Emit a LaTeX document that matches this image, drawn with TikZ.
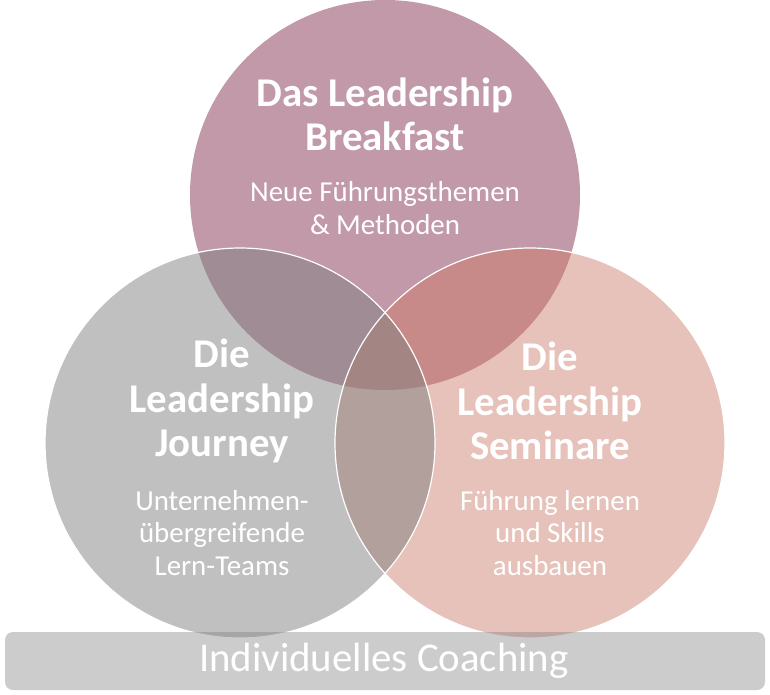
\documentclass[tikz,border=0pt]{standalone}
\usepackage{fontspec}
\setmainfont{Carlito}
\definecolor{breakfast}{HTML}{C199A8}
\definecolor{journey}{HTML}{C0C0C0}
\definecolor{seminare}{HTML}{E6C2BA}
\definecolor{bfjourney}{HTML}{A08C94}
\definecolor{bfseminare}{HTML}{C88A88}
\definecolor{journeysem}{HTML}{B2A09C}
\definecolor{allthree}{HTML}{A38684}
\tikzset{
  title/.style={text=white,align=center,inner sep=0pt,font=\bfseries\fontsize{41}{44.5}\selectfont},
  sub/.style={text=white,align=center,inner sep=0pt,font=\fontsize{29}{32.5}\selectfont},
  ring/.style={draw=white,line width=1.2pt}
}
\begin{document}
\begin{tikzpicture}[x=1bp,y=-1bp]
    \useasboundingbox (0,0) rectangle (770,695);
    % circle centres
    \coordinate (top) at (385,195);
    \coordinate (lft) at (240,443);
    \coordinate (rgt) at (530,443);
    \fill[breakfast] (top) circle[radius=195bp];
    \fill[journey] (lft) circle[radius=195bp];
    \fill[seminare] (rgt) circle[radius=195bp];
    % overlaps
    \begin{scope}
        \clip (rgt) circle[radius=195bp];
        \fill[bfseminare] (top) circle[radius=195bp];
    \end{scope}
    \begin{scope}
        \clip (lft) circle[radius=195bp];
        \fill[bfjourney] (top) circle[radius=195bp];
        \fill[journeysem] (rgt) circle[radius=195bp];
        \clip (top) circle[radius=195bp];
        \fill[allthree] (rgt) circle[radius=195bp];
    \end{scope}
    \draw[ring] (lft) circle[radius=195bp];
    \draw[ring] (rgt) circle[radius=195bp];
    % texts
    \node[title] (bftitle) at (385,114) {Das Leadership\\Breakfast};
    \node[sub] (bfsub) at (385,208) {Neue Führungsthemen\\\& Methoden};
    \node[title] (jotitle) at (222,401) {Die\\Leadership\\Journey};
    \node[sub] (josub) at (222,533) {Unternehmen-\\übergreifende\\Lern-Teams};
    \node[title] (setitle) at (550,401) {Die\\Leadership\\Seminare};
    \node[sub] (sesub) at (550,533) {Führung lernen\\und Skills\\ausbauen};
    % coaching bar
    \fill[gray,fill opacity=.4,rounded corners=8bp] (5,632) rectangle (765,690);
    \node[text=white,inner sep=0pt,font=\fontsize{41}{44}\selectfont] (coach) at (384,661) {Individuelles Coaching};
\end{tikzpicture}
\end{document}
